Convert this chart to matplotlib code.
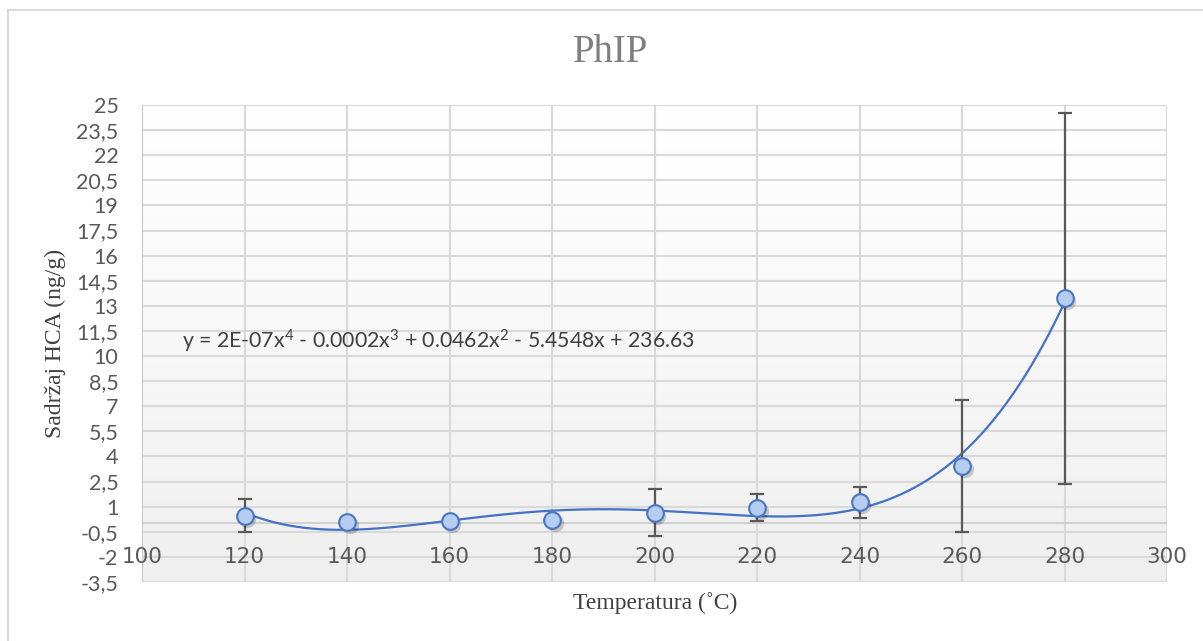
import numpy as np
import matplotlib
matplotlib.use("Agg")
import matplotlib.pyplot as plt
from matplotlib.patches import Rectangle
from matplotlib.ticker import FuncFormatter

plt.rcParams["mathtext.fontset"] = "custom"
plt.rcParams["mathtext.rm"] = "Lato"
plt.rcParams["mathtext.it"] = "Lato:italic"
plt.rcParams["mathtext.bf"] = "Lato:bold"

# ---- data ----
temperature = [120, 140, 160, 180, 200, 220, 240, 260, 280]
hca = [0.47, 0.07, 0.17, 0.21, 0.65, 0.95, 1.27, 3.45, 13.45]
hca_err = [0.97, 0.2, 0.2, 0.2, 1.4, 0.8, 0.93, 3.95, 11.1]
y_ticks = [-3.5, -2, -0.5, 1, 2.5, 4, 5.5, 7, 8.5, 10, 11.5, 13, 14.5, 16,
           17.5, 19, 20.5, 22, 23.5, 25]
x_ticks = [100, 120, 140, 160, 180, 200, 220, 240, 260, 280, 300]
title = "PhIP"
x_label = "Temperatura (˚C)"
y_label = "Sadržaj HCA (ng/g)"
equation = (r"y = 2E-07x$\mathregular{^4}$ - 0.0002x$\mathregular{^3}$ + "
            r"0.0462x$\mathregular{^2}$ - 5.4548x + 236.63")

W, H = 1203, 641
fig = plt.figure(figsize=(W / 100, H / 100), dpi=100)
fig.patch.set_facecolor("white")

# outer chart border
fig.patches.append(Rectangle((8 / W, -0.02), 1.05, (H - 10) / H + 0.02,
                             transform=fig.transFigure, fill=False,
                             edgecolor="#d9d9d9", linewidth=1.5))

ax = fig.add_axes([142 / W, (H - 582) / H, (1167 - 142) / W, (582 - 105) / H])
ax.set_xlim(100, 300)
ax.set_ylim(-3.5, 25)

# gradient plot area
grad = np.linspace(0, 1, 256).reshape(-1, 1)
top = np.array([1.0, 1.0, 1.0])
bot = np.array([0.937, 0.937, 0.937])
img = top + (bot - top) * grad[..., None] ** 1.15
ax.imshow(img.reshape(256, 1, 3), extent=[100, 300, -3.5, 25], origin="upper",
          aspect="auto", zorder=0, interpolation="bilinear")

grid_c = "#d9d9d9"
for yv in y_ticks:
    ax.axhline(yv, color=grid_c, lw=1.5, zorder=1)
for xv in x_ticks[1:]:
    ax.axvline(xv, color=grid_c, lw=1.5, zorder=1)
ax.axhline(0, color="#d0d0d0", lw=1.5, zorder=1)

for s in ax.spines.values():
    s.set_visible(False)
ax.axvline(100, color="#c8c8c8", lw=1.5, zorder=1)

tick_font = "Lato"
ax.set_yticks(y_ticks)
ax.yaxis.set_major_formatter(FuncFormatter(lambda v, p: ("%g" % v).replace(".", ",")))
ax.set_xticks(x_ticks)
ax.set_xticklabels([str(v) for v in x_ticks])
ax.tick_params(axis="y", length=0, pad=17, labelsize=15.5, labelcolor="#595959")
ax.tick_params(axis="x", length=0, labelsize=15.5, labelcolor="#595959")
for lab in ax.get_xticklabels() + ax.get_yticklabels():
    lab.set_fontfamily(tick_font)
# x labels sit below the axis line at y=0
ax.spines["bottom"].set_position(("data", 0))
ax.tick_params(axis="x", pad=17)

# trendline (4th order polynomial fit)
coef = np.polyfit(temperature, hca, 4)
xs = np.linspace(min(temperature), max(temperature), 400)
ax.plot(xs, np.polyval(coef, xs), color="#4472c4", lw=1.6, zorder=3)

# error bars
ax.errorbar(temperature, hca, yerr=hca_err, fmt="none", ecolor="#595959",
            elinewidth=1.6, capsize=4.7, capthick=1.6, zorder=4)

# marker shadow
ax.plot(np.array(temperature) + 0.5, np.array(hca) - 0.18, "o", ms=12.5,
        color="#000000", alpha=0.18, mec="none", zorder=4.5)
ax.plot(temperature, hca, "o", ms=12, mfc="#b4cdf0", mec="#4a76c2", mew=1.5,
        zorder=5)

ax.text(107.8, 10.9, equation, fontsize=15.3, color="#404040",
        fontfamily=tick_font, va="center", ha="left", zorder=6)

fig.text(610 / W, 1 - 52 / H, title, fontsize=28, color="#7f7f7f",
         fontfamily="Liberation Serif", ha="center", va="center")
fig.text(655 / W, 1 - 603 / H, x_label, fontsize=17, color="#404040",
         fontfamily="Liberation Serif", ha="center", va="center")
fig.text(55 / W, 1 - 343 / H, y_label, fontsize=17, color="#404040",
         fontfamily="Liberation Serif", ha="center", va="center", rotation=90)

fig.savefig("out.png", dpi=100)
